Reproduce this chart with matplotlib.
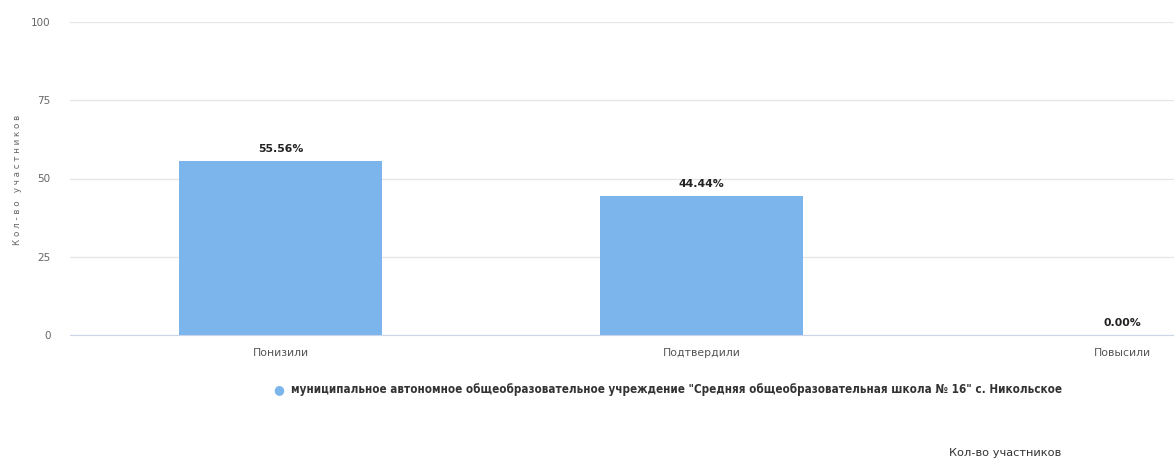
import matplotlib
matplotlib.use("Agg")
import matplotlib.pyplot as plt

categories = ["Понизили", "Подтвердили", "Повысили"]
values = [55.56, 44.44, 0.00]
labels = ["55.56%", "44.44%", "0.00%"]
yticks = [0, 25, 50, 75, 100]
series_name = 'муниципальное автономное общеобразовательное учреждение "Средняя общеобразовательная школа № 16" с. Никольское'

W, H = 1174, 462
fig = plt.figure(figsize=(W/100, H/100), dpi=100)
band = 421
left = 70
ax = fig.add_axes([left/W, (H-335)/H, 3*band/W, 313/H])
x = list(range(len(categories)))
ax.bar(x, values, width=0.48, color="#7cb5ec", zorder=3)
ax.set_xlim(-0.5, 2.5)
ax.set_ylim(0, 100)
ax.set_yticks(yticks)
ax.set_yticklabels([str(t) for t in yticks], fontsize=7.5, color="#666666")
ax.set_xticks(x)
ax.set_xticklabels(categories, fontsize=7.8, color="#555555")
ax.tick_params(axis="both", length=0, pad=9)
ax.tick_params(axis="y", pad=14)
ax.grid(axis="y", color="#e6e6e6", linewidth=0.9, zorder=0)
for s in ["top", "right", "left"]:
    ax.spines[s].set_visible(False)
ax.spines["bottom"].set_color("#ccd6eb")
for xi, v, l in zip(x, values, labels):
    ax.annotate(l, (xi, v), xytext=(0, 5), textcoords="offset points",
                ha="center", va="bottom", fontsize=7.8, fontweight="bold", color="#222222")
fig.text(18/W, 1-180/H, "К о л - в о   у ч а с т н и к о в", rotation=90, ha="center", va="center",
         fontsize=6.3, color="#666666")
# legend
fig.text(279/W, 1-390/H, "●", ha="center", va="center", fontsize=9, color="#7cb5ec")
fig.text(291/W, 1-390/H, series_name, ha="left", va="center", fontsize=8.4,
         color="#333333", fontweight="bold", fontstretch="condensed")
fig.text(1005/W, 1-453/H, "Кол-во участников", ha="center", va="center", fontsize=8.2, color="#333333")
fig.savefig("out.png", dpi=100)
